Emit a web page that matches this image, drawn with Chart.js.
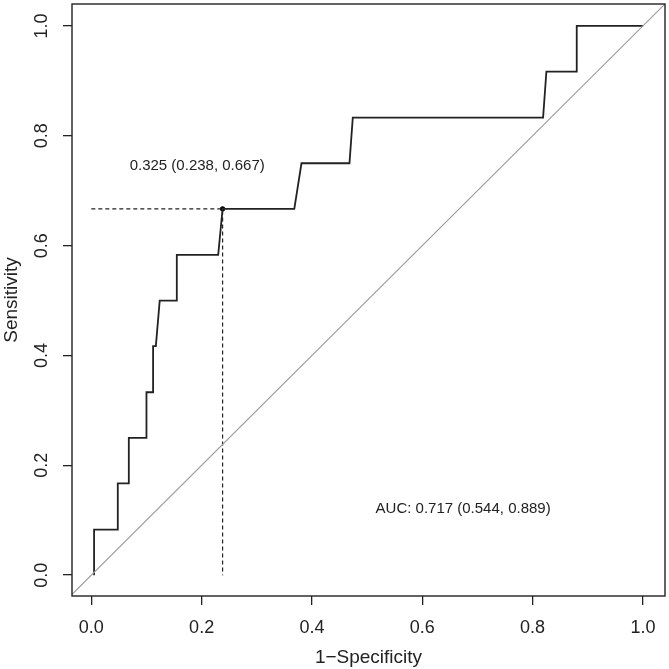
<!DOCTYPE html>
<html>
<head>
<meta charset="utf-8">
<script src="https://cdn.jsdelivr.net/npm/chart.js@4/dist/chart.umd.min.js"></script>
<style>
  html, body { margin: 0; padding: 0; background: #fff; }
</style>
</head>
<body>
<canvas id="roc" width="669" height="669"></canvas>
<script>
// ROC curve points (1-specificity, sensitivity)
const fpr = [0.005, 0.005, 0.048, 0.048, 0.068, 0.068, 0.100, 0.100, 0.112, 0.112, 0.117, 0.124, 0.155, 0.155, 0.230, 0.238, 0.368, 0.381, 0.468, 0.474, 0.819, 0.825, 0.880, 0.880, 1.000];
const tpr = [0.000, 0.083, 0.083, 0.167, 0.167, 0.250, 0.250, 0.333, 0.333, 0.417, 0.417, 0.500, 0.500, 0.583, 0.583, 0.667, 0.667, 0.750, 0.750, 0.833, 0.833, 0.917, 0.917, 1.000, 1.000];
const tickValues = [0.0, 0.2, 0.4, 0.6, 0.8, 1.0];
const bestThreshold = 0.325;
const bestFpr = 0.238;
const bestTpr = 0.667;
const aucLabel = 'AUC: 0.717 (0.544, 0.889)';

const FONT = '"Liberation Sans", Arial, Helvetica, sans-serif';
const INK = '#222';

const rocPoints = fpr.map((x, i) => ({ x: x, y: tpr[i] }));

const rPlotFrame = {
    id: 'rPlotFrame',
    afterDraw(chart) {
        const ctx = chart.ctx;
        const a = chart.chartArea;
        const xs = chart.scales.x;
        const ys = chart.scales.y;
        ctx.save();
        // box around the plot region
        ctx.strokeStyle = INK;
        ctx.lineWidth = 1.4;
        ctx.strokeRect(a.left, a.top, a.right - a.left, a.bottom - a.top);

        // y tick labels, rotated like base R
        ctx.fillStyle = INK;
        ctx.font = '18px ' + FONT;
        ctx.textAlign = 'center';
        ctx.textBaseline = 'middle';
        tickValues.forEach(v => {
            ctx.save();
            ctx.translate(42, ys.getPixelForValue(v));
            ctx.rotate(-Math.PI / 2);
            ctx.fillText(v.toFixed(1), 0, 0);
            ctx.restore();
        });

        // annotations
        ctx.font = '15px ' + FONT;
        const bestText = bestThreshold.toFixed(3) + ' (' + bestFpr.toFixed(3) + ', ' + bestTpr.toFixed(3) + ')';
        ctx.fillText(bestText, xs.getPixelForValue(0.192), ys.getPixelForValue(0.745));
        ctx.fillText(aucLabel, xs.getPixelForValue(0.674), ys.getPixelForValue(0.12));
        ctx.restore();
    }
};

new Chart(document.getElementById('roc').getContext('2d'), {
    type: 'scatter',
    data: {
        datasets: [
            {
                label: 'chance',
                data: [{ x: -0.1, y: -0.1 }, { x: 1.1, y: 1.1 }],
                showLine: true,
                borderColor: '#a0a0a0',
                borderWidth: 1.2,
                pointRadius: 0
            },
            {
                label: 'best',
                data: [{ x: 0, y: bestTpr }, { x: bestFpr, y: bestTpr }, { x: bestFpr, y: 0 }],
                showLine: true,
                borderColor: INK,
                borderWidth: 1.2,
                borderDash: [4, 3],
                pointRadius: 0
            },
            {
                label: 'roc',
                data: rocPoints,
                showLine: true,
                borderColor: INK,
                borderWidth: 1.8,
                pointRadius: 0,
                tension: 0
            },
            {
                label: 'point',
                data: [{ x: bestFpr, y: bestTpr }],
                pointRadius: 2.6,
                pointBackgroundColor: '#000',
                pointBorderWidth: 0
            }
        ]
    },
    options: {
        responsive: false,
        animation: false,
        layout: { padding: { top: 2, right: 2, left: 0, bottom: 0 } },
        plugins: {
            legend: { display: false },
            tooltip: { enabled: false }
        },
        scales: {
            x: {
                type: 'linear',
                min: -0.035,
                max: 1.04,
                afterBuildTicks: s => { s.ticks = tickValues.map(v => ({ value: v })); },
                afterFit: s => { s.height = 73; },
                border: { display: false },
                grid: { drawOnChartArea: false, drawTicks: true, tickLength: 9, color: INK, lineWidth: 1.3 },
                ticks: {
                    color: INK,
                    padding: 12,
                    maxRotation: 0,
                    font: { family: FONT, size: 18 },
                    callback: v => v.toFixed(1)
                },
                title: {
                    display: true,
                    text: '1\u2212Specificity',
                    color: INK,
                    font: { family: FONT, size: 19 },
                    padding: { top: 0, bottom: 0 }
                }
            },
            y: {
                type: 'linear',
                min: -0.038,
                max: 1.04,
                afterBuildTicks: s => { s.ticks = tickValues.map(v => ({ value: v })); },
                afterFit: s => { s.width = 72; },
                border: { display: false },
                grid: { drawOnChartArea: false, drawTicks: true, tickLength: 9, color: INK, lineWidth: 1.3 },
                ticks: { display: false },
                title: {
                    display: true,
                    text: 'Sensitivity',
                    color: INK,
                    font: { family: FONT, size: 19 },
                    padding: { top: 0, bottom: 0 }
                }
            }
        }
    },
    plugins: [rPlotFrame]
});
</script>
</body>
</html>
